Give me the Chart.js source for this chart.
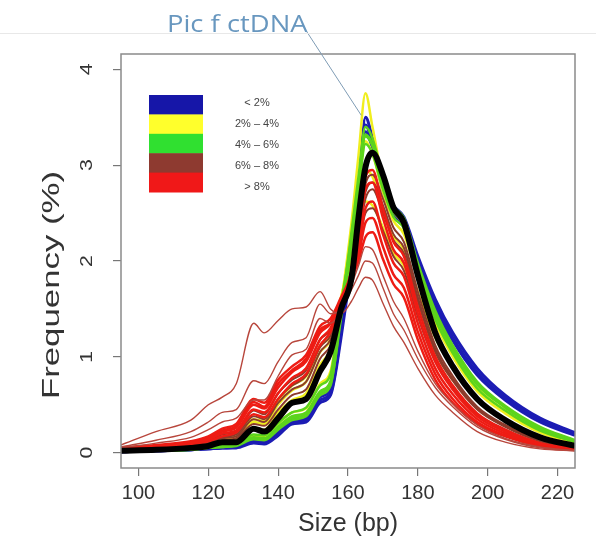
<!DOCTYPE html>
<html lang="en">
<head>
<meta charset="UTF-8">
<title>Pic f ctDNA</title>
<style>
  body { margin: 0; background: #fff; }
  .wrap { position: relative; width: 596px; height: 539px; }
  canvas { position: absolute; left: 0; top: 0; }
  .rule { position: absolute; left: 0; top: 33px; width: 596px; border-top: 1px solid #e8e8e8; }
  .title {
    position: absolute; left: 167px; top: 12px;
    font-family: 'Open Sans', sans-serif; font-size: 23px; line-height: 1;
    color: #6897bf; white-space: nowrap;
    transform: scaleX(1.19); transform-origin: left top;
  }
</style>
</head>
<body>
<div class="wrap">
  <canvas id="sizeChart" width="596" height="539"></canvas>
  <div class="rule"></div>
  <div class="title">Pic f ctDNA</div>
</div>

<script src="https://cdn.jsdelivr.net/npm/chart.js"></script>
<script>
// fragment sizes (bp) shared by every profile
const sizes = [95, 105, 115, 120, 124, 128, 133, 136, 140, 144, 148, 152, 155, 158, 161, 163, 165, 167, 170, 173, 176, 180, 185, 190, 197, 205, 215, 225];

const xTicks = [100, 120, 140, 160, 180, 200, 220];
const yTicks = [0, 1, 2, 3, 4];

const legendLabels = ['< 2%', '2% \u2013 4%', '4% \u2013 6%', '6% \u2013 8%', '> 8%'];

// frequency (%) per size, one array per sample
const blueA   = [0.01,0.02,0.03,0.04,0.05,0.05,0.10,0.09,0.18,0.30,0.32,0.52,0.60,1.20,2.00,2.70,3.50,3.28,2.82,2.58,2.46,2.05,1.60,1.25,0.88,0.60,0.36,0.21];
const blueB   = [0.01,0.02,0.03,0.04,0.05,0.06,0.11,0.10,0.20,0.32,0.34,0.55,0.62,1.25,2.05,2.72,3.42,3.22,2.78,2.52,2.42,2.00,1.56,1.20,0.84,0.57,0.34,0.19];
const blueC   = [0.01,0.02,0.03,0.04,0.05,0.06,0.12,0.11,0.22,0.34,0.36,0.58,0.66,1.30,2.10,2.75,3.35,3.18,2.74,2.48,2.38,1.96,1.52,1.17,0.81,0.55,0.32,0.18];

const yellowA = [0.02,0.03,0.04,0.06,0.08,0.09,0.18,0.16,0.30,0.42,0.46,0.72,0.85,1.55,2.40,3.10,3.75,3.40,2.85,2.52,2.38,1.92,1.42,1.05,0.68,0.44,0.23,0.11];
const yellowB = [0.02,0.03,0.05,0.07,0.10,0.12,0.26,0.24,0.42,0.55,0.62,0.92,1.08,1.60,2.20,2.75,3.25,3.12,2.72,2.42,2.28,1.82,1.35,1.00,0.64,0.41,0.21,0.10];
const yellowC = [0.03,0.04,0.06,0.09,0.13,0.15,0.32,0.30,0.50,0.65,0.74,1.05,1.18,1.62,2.10,2.55,2.95,2.88,2.55,2.26,2.12,1.68,1.20,0.88,0.54,0.33,0.16,0.07];
const yellowD = [0.03,0.05,0.07,0.10,0.14,0.17,0.35,0.33,0.55,0.70,0.80,1.12,1.22,1.62,2.00,2.35,2.62,2.58,2.35,2.08,1.95,1.52,1.05,0.76,0.46,0.28,0.13,0.06];

const greenA  = [0.01,0.02,0.03,0.05,0.06,0.07,0.14,0.13,0.24,0.34,0.38,0.60,0.70,1.45,2.30,2.88,3.40,3.28,2.88,2.58,2.45,1.98,1.48,1.12,0.74,0.49,0.27,0.13];
const greenB  = [0.01,0.02,0.04,0.05,0.07,0.08,0.16,0.15,0.27,0.38,0.42,0.64,0.75,1.50,2.25,2.80,3.30,3.20,2.82,2.52,2.40,1.93,1.44,1.08,0.71,0.47,0.25,0.12];
const greenC  = [0.02,0.03,0.04,0.06,0.08,0.09,0.19,0.18,0.31,0.42,0.47,0.70,0.82,1.55,2.20,2.72,3.22,3.12,2.75,2.46,2.34,1.88,1.39,1.04,0.67,0.44,0.23,0.11];
const greenD  = [0.01,0.02,0.03,0.05,0.06,0.08,0.15,0.14,0.26,0.36,0.40,0.62,0.72,1.40,2.15,2.78,3.32,3.22,2.85,2.55,2.42,1.95,1.46,1.10,0.72,0.48,0.26,0.12];

const brownA  = [0.03,0.04,0.06,0.09,0.13,0.15,0.30,0.28,0.45,0.60,0.66,0.98,1.12,1.48,1.85,2.30,2.80,2.90,2.65,2.35,2.20,1.68,1.12,0.80,0.48,0.29,0.13,0.05];
const brownB  = [0.03,0.05,0.07,0.10,0.15,0.17,0.35,0.32,0.52,0.66,0.74,1.05,1.18,1.50,1.85,2.22,2.65,2.75,2.50,2.22,2.08,1.58,1.05,0.75,0.45,0.27,0.12,0.05];
const brownC  = [0.04,0.06,0.09,0.13,0.19,0.22,0.44,0.40,0.62,0.76,0.86,1.18,1.28,1.58,1.85,2.15,2.50,2.55,2.32,2.05,1.90,1.42,0.95,0.67,0.40,0.24,0.10,0.04];
const brownD  = [0.03,0.05,0.08,0.11,0.16,0.19,0.38,0.35,0.56,0.70,0.80,1.10,1.22,1.52,1.88,2.28,2.72,2.82,2.58,2.28,2.14,1.62,1.08,0.77,0.46,0.28,0.12,0.05];

const redA    = [0.04,0.06,0.10,0.14,0.20,0.23,0.45,0.42,0.62,0.78,0.88,1.18,1.30,1.58,1.85,2.20,2.75,2.82,2.45,2.12,1.98,1.45,0.95,0.66,0.38,0.22,0.09,0.04];
const redB    = [0.05,0.07,0.11,0.15,0.22,0.26,0.50,0.46,0.68,0.84,0.95,1.25,1.35,1.60,1.85,2.10,2.55,2.62,2.28,1.98,1.84,1.35,0.88,0.61,0.35,0.20,0.08,0.03];
const redC    = [0.04,0.06,0.09,0.12,0.17,0.21,0.40,0.37,0.56,0.72,0.82,1.12,1.26,1.56,1.90,2.28,2.88,2.95,2.55,2.20,2.05,1.52,1.00,0.70,0.41,0.24,0.10,0.04];
const redD    = [0.05,0.08,0.12,0.17,0.25,0.30,0.56,0.52,0.76,0.90,1.02,1.32,1.40,1.62,1.85,2.05,2.40,2.45,2.15,1.86,1.72,1.26,0.82,0.56,0.32,0.18,0.07,0.03];
const redE    = [0.05,0.07,0.11,0.16,0.23,0.28,0.53,0.48,0.72,0.86,0.98,1.28,1.36,1.60,1.82,2.00,2.25,2.30,2.02,1.76,1.62,1.18,0.76,0.52,0.30,0.17,0.07,0.03];
const redF    = [0.08,0.22,0.34,0.50,0.58,0.72,1.35,1.25,1.38,1.50,1.52,1.68,1.50,1.45,1.58,1.72,1.83,1.80,1.56,1.32,1.15,0.88,0.60,0.42,0.22,0.11,0.04,0.02];
const redG    = [0.06,0.13,0.22,0.32,0.42,0.45,0.75,0.72,0.95,1.15,1.20,1.55,1.45,1.50,1.70,1.85,2.00,1.98,1.72,1.45,1.28,0.98,0.68,0.48,0.27,0.14,0.05,0.02];
const redH    = [0.05,0.10,0.16,0.24,0.32,0.36,0.55,0.55,0.80,1.02,1.08,1.40,1.35,1.48,1.75,1.95,2.15,2.12,1.85,1.58,1.40,1.06,0.72,0.51,0.29,0.15,0.06,0.02];

// pooled mean profile
const meanProfile = [0.02,0.03,0.05,0.07,0.11,0.11,0.25,0.22,0.36,0.52,0.56,0.85,1.05,1.50,1.82,2.45,2.98,3.13,2.90,2.56,2.40,1.85,1.25,0.90,0.56,0.34,0.16,0.07];

const legendColors = ['#1616a8', '#ffff2c', '#30e030', '#8e3a30', '#f01818'];
const FONT = '"Liberation Sans", Arial, sans-serif';

function series(values, color, width, order) {
  return {
    data: sizes.map((s, i) => ({ x: s, y: values[i] })),
    borderColor: color,
    borderWidth: width,
    pointRadius: 0,
    cubicInterpolationMode: 'monotone',
    fill: false,
    order: order
  };
}

const datasets = [
  ...[blueA, blueB, blueC].map(v => series(v, '#1c1cb4', 3, 7)),
  ...[yellowA, yellowB, yellowC, yellowD].map(v => series(v, '#f0ee1e', 2.5, 6)),
  ...[greenA, greenB, greenC, greenD].map(v => series(v, '#5cd41c', 2.5, 5)),
  ...[brownA, brownB, brownC, brownD].map(v => series(v, '#8c3b2c', 2, 4)),
  ...[redA, redB, redC, redD, redE].map(v => series(v, '#ee1c14', 2.5, 3)),
  ...[redF, redG, redH].map(v => series(v, '#b8463c', 1.4, 2)),
  series(meanProfile, '#000000', 6, 0)
];

// frame, rotated y labels, colour key and the callout line
const decor = {
  id: 'decor',
  afterDraw(chart) {
    const { ctx, chartArea: a, scales: { x, y } } = chart;
    ctx.save();

    ctx.strokeStyle = '#8a8a8a';
    ctx.lineWidth = 1.5;
    ctx.strokeRect(a.left, a.top, a.right - a.left, a.bottom - a.top);

    ctx.fillStyle = '#333';
    ctx.textAlign = 'center';
    ctx.textBaseline = 'middle';
    ctx.font = '17px ' + FONT;
    yTicks.forEach(v => {
      ctx.save();
      ctx.translate(87, y.getPixelForValue(v));
      ctx.rotate(-Math.PI / 2);
      ctx.scale(1.25, 1);
      ctx.fillText(String(v), 0, 0);
      ctx.restore();
    });

    ctx.save();
    ctx.translate(52, 285);
    ctx.rotate(-Math.PI / 2);
    ctx.scale(1.45, 1);
    ctx.font = '24px ' + FONT;
    ctx.fillText('Frequency (%)', 0, 0);
    ctx.restore();

    const kx = a.left + 28, ky = a.top + 41, kw = 54, kh = 19.4;
    legendColors.forEach((c, i) => {
      ctx.fillStyle = c;
      ctx.fillRect(kx, ky + i * kh, kw, kh + 0.5);
    });
    ctx.fillStyle = '#444';
    ctx.font = '11px ' + FONT;
    legendLabels.forEach((t, i) => {
      ctx.fillText(t, 257, ky + 8 + i * 21);
    });

    ctx.strokeStyle = '#7f9cb5';
    ctx.lineWidth = 1;
    ctx.beginPath();
    ctx.moveTo(307, 32);
    ctx.lineTo(x.getPixelForValue(163.8), y.getPixelForValue(3.52));
    ctx.stroke();

    ctx.restore();
  }
};

const axisGrid = { display: true, drawOnChartArea: false, drawTicks: true, tickLength: 8, color: '#777', lineWidth: 1.2 };

new Chart(document.getElementById('sizeChart').getContext('2d'), {
  type: 'line',
  data: { datasets: datasets },
  options: {
    responsive: false,
    devicePixelRatio: 1,
    animation: false,
    layout: { padding: { top: 54, right: 21, left: 0, bottom: 0 } },
    plugins: { legend: { display: false }, tooltip: { enabled: false } },
    scales: {
      x: {
        type: 'linear',
        min: 95,
        max: 225,
        afterBuildTicks: s => { s.ticks = xTicks.map(v => ({ value: v })); },
        afterFit: s => { s.height = 71; },
        grid: axisGrid,
        border: { display: false },
        ticks: { color: '#333', font: { size: 20, family: FONT }, padding: 5, maxRotation: 0, autoSkip: false },
        title: {
          display: true, text: 'Size (bp)', color: '#333',
          font: { size: 25, family: FONT, lineHeight: 1 },
          padding: { top: 0, bottom: 2 }
        }
      },
      y: {
        type: 'linear',
        min: -0.16,
        max: 4.16,
        afterBuildTicks: s => { s.ticks = yTicks.map(v => ({ value: v })); },
        afterFit: s => { s.width = 121; },
        grid: axisGrid,
        border: { display: false },
        ticks: { display: false }
      }
    }
  },
  plugins: [decor]
});
</script>
</body>
</html>
